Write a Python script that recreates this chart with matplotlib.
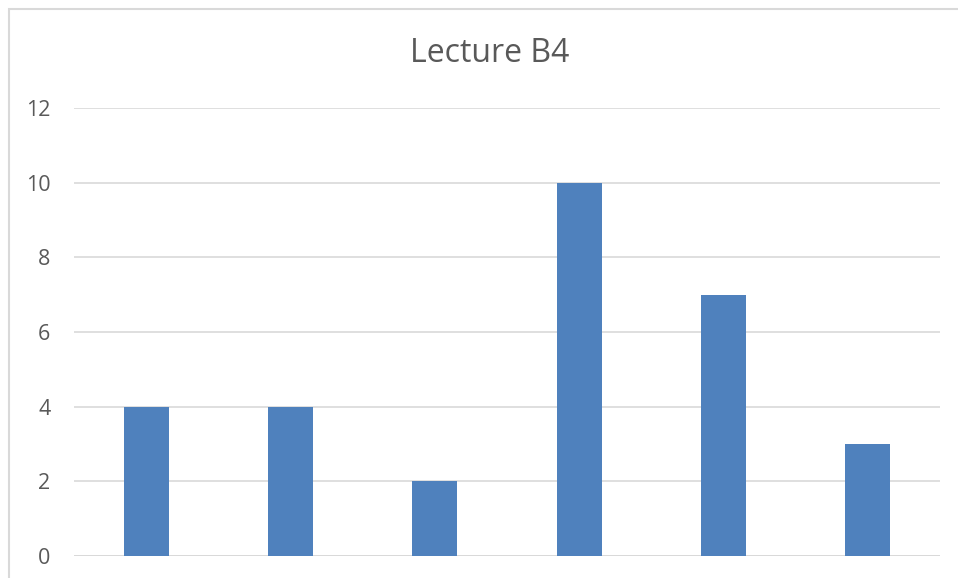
import matplotlib.pyplot as plt
from matplotlib.patches import Rectangle

categories = ["1", "2", "3", "4", "5", "6"]
values = [4, 4, 2, 10, 7, 3]
yticks = [0, 2, 4, 6, 8, 10, 12]

plt.rcParams['font.family'] = ['Open Sans', 'DejaVu Sans']

W, H = 958, 578
fig = plt.figure(figsize=(W / 100, H / 100), dpi=100)
ax = fig.add_axes([74 / W, 1 - 556 / H, (940 - 74) / W, (556 - 108) / H])

# chart border (only left and top visible in the crop)
fig.patches.append(Rectangle((9 / W, -0.05), 1.1, 1 - 9 / H + 0.05,
                             transform=fig.transFigure, fill=False,
                             edgecolor='#D9D9D9', linewidth=1.5))

x = range(len(categories))
ax.bar(x, values, width=0.31, color='#4F81BD', zorder=3)
ax.set_xlim(-0.5, len(categories) - 0.5)
ax.set_ylim(0, 12)
ax.set_yticks(yticks)
ax.set_xticks([])
ax.grid(axis='y', color='#D9D9D9', linewidth=1.2, zorder=0)
for s in ax.spines.values():
    s.set_visible(False)
ax.axhline(0, color='#D9D9D9', linewidth=1.4, zorder=2)
ax.tick_params(axis='y', length=0, pad=17, labelsize=15.5, labelcolor='#595959')

fig.text(490 / W, 1 - 54 / H, "Lecture B4", ha='center', va='center',
         fontsize=23, color='#595959')

fig.savefig('out.png', dpi=100)
